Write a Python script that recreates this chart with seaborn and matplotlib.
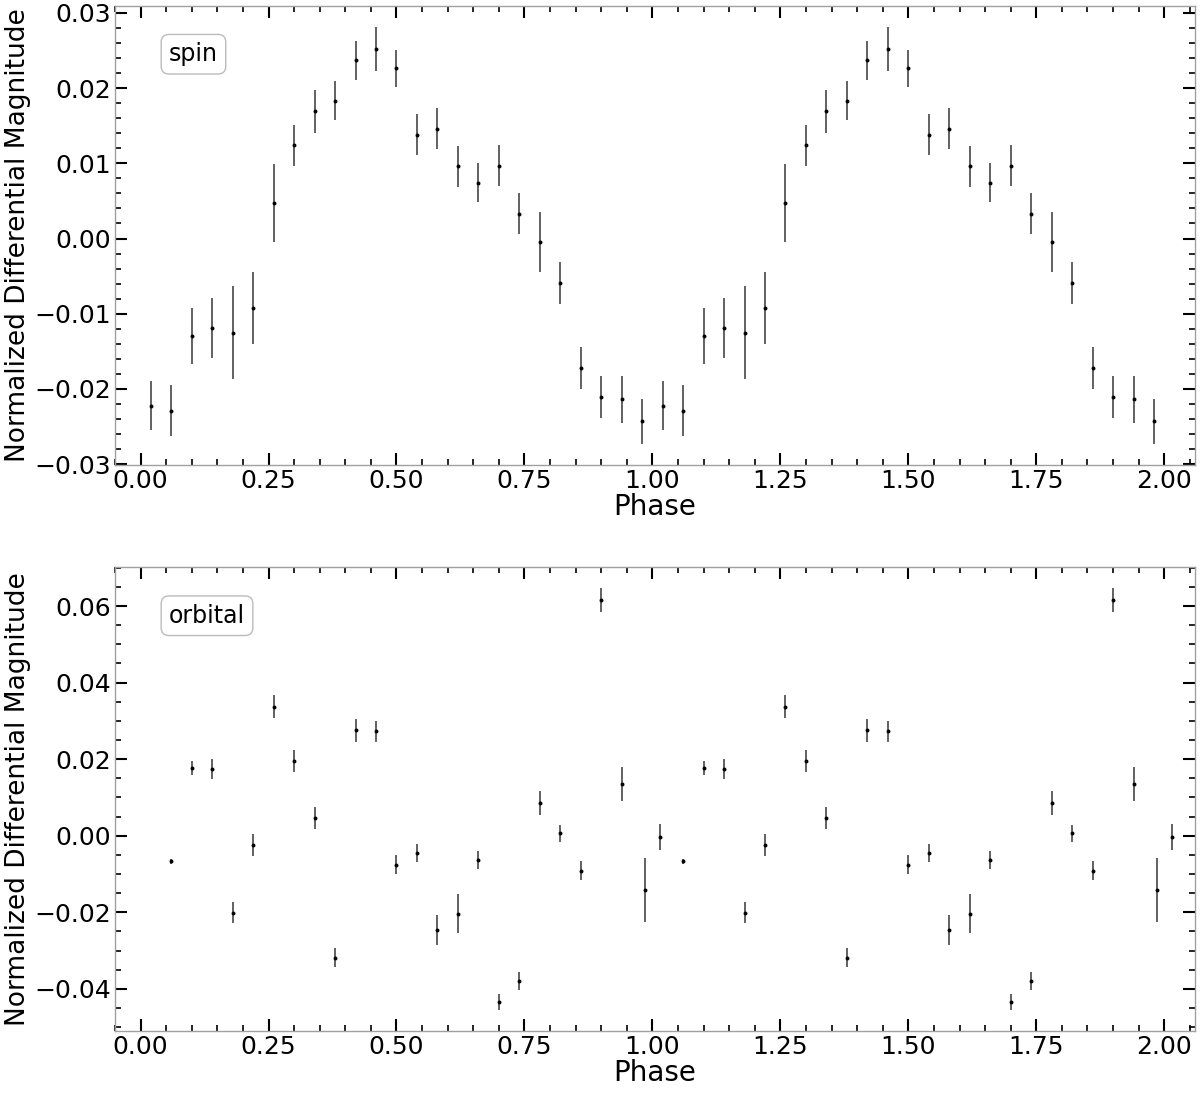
import numpy as np
import pandas as pd
import matplotlib
matplotlib.use('Agg')
import matplotlib.pyplot as plt
import seaborn as sns
from matplotlib.ticker import AutoMinorLocator

# spin folded light curve (one cycle, repeated for the second)
spin_phase = [0.02, 0.06, 0.10, 0.14, 0.18, 0.22, 0.26, 0.30, 0.34, 0.38, 0.42, 0.46, 0.50,
              0.54, 0.58, 0.62, 0.66, 0.70, 0.74, 0.78, 0.82, 0.86, 0.90, 0.94, 0.98]
spin_mag = [-0.0222, -0.0229, -0.0130, -0.0119, -0.0125, -0.0092, 0.0047, 0.0124, 0.0169,
            0.0183, 0.0237, 0.0252, 0.0226, 0.0138, 0.0146, 0.0096, 0.0074, 0.0097, 0.0033,
            -0.0005, -0.0059, -0.0172, -0.0211, -0.0214, -0.0243]
spin_err = [0.0033, 0.0034, 0.0037, 0.0040, 0.0062, 0.0048, 0.0052, 0.0027, 0.0029, 0.0026,
            0.0026, 0.0029, 0.0025, 0.0027, 0.0027, 0.0027, 0.0026, 0.0027, 0.0027, 0.0040,
            0.0028, 0.0028, 0.0028, 0.0031, 0.0030]

# orbital folded light curve
orb_phase = [0.06, 0.10, 0.14, 0.18, 0.22, 0.26, 0.30, 0.34, 0.38, 0.42, 0.46, 0.50, 0.54,
             0.58, 0.62, 0.66, 0.70, 0.74, 0.78, 0.82, 0.86, 0.90, 0.94, 0.985, 1.015]
orb_mag = [-0.0067, 0.0178, 0.0174, -0.0201, -0.0024, 0.0337, 0.0195, 0.0047, -0.0319,
           0.0276, 0.0273, -0.0076, -0.0045, -0.0246, -0.0203, -0.0064, -0.0434, -0.0379,
           0.0085, 0.0007, -0.0091, 0.0616, 0.0136, -0.0142, -0.0004]
orb_err = [0.0007, 0.0018, 0.0027, 0.0027, 0.0029, 0.0030, 0.0029, 0.0029, 0.0025, 0.0030,
           0.0028, 0.0025, 0.0024, 0.0039, 0.0052, 0.0024, 0.0021, 0.0023, 0.0031, 0.0022,
           0.0024, 0.0031, 0.0044, 0.0083, 0.0034]


def two_cycles(phase, mag, err):
    ph = np.array(phase)
    return pd.DataFrame({'phase': np.concatenate([ph, ph + 1]),
                         'mag': np.tile(mag, 2),
                         'err': np.tile(err, 2)})


sns.set_style('ticks')
plt.rcParams['font.family'] = ['DejaVu Sans']
plt.rcParams['axes.unicode_minus'] = True
plt.rcParams['text.color'] = 'black'
plt.rcParams['axes.labelcolor'] = 'black'

fig = plt.figure(figsize=(12, 11.19), dpi=100)
ax1 = fig.add_axes([0.0958, 0.5845, 0.9, 0.4101])
ax2 = fig.add_axes([0.0958, 0.0786, 0.9, 0.4147])

for ax, (ph, mg, er), label in [(ax1, (spin_phase, spin_mag, spin_err), 'spin'),
                                (ax2, (orb_phase, orb_mag, orb_err), 'orbital')]:
    df = two_cycles(ph, mg, er)
    ax.errorbar(df['phase'], df['mag'], yerr=df['err'], fmt='none',
                ecolor='#555555', elinewidth=1.3)
    sns.scatterplot(data=df, x='phase', y='mag', ax=ax, color='black', s=8,
                    edgecolor='black', linewidth=0, zorder=3)
    ax.set_xlim(-0.05, 2.06)
    ax.set_xticks([0.0, 0.25, 0.5, 0.75, 1.0, 1.25, 1.5, 1.75, 2.0])
    ax.xaxis.set_minor_locator(AutoMinorLocator())
    ax.yaxis.set_minor_locator(AutoMinorLocator())
    ax.tick_params(which='both', direction='in', top=True, right=True,
                   colors='black', labelcolor='black', labelsize=18, pad=3)
    ax.tick_params(which='major', length=8.5, width=1.5)
    ax.tick_params(which='minor', length=4.5, width=1.2)
    for sp in ax.spines.values():
        sp.set_color('#a0a0a0')
        sp.set_linewidth(1.0)
    ax.set_xlabel('Phase', fontsize=20, labelpad=0, color='black')
    ax.set_ylabel('Normalized Differential Magnitude', fontsize=19, labelpad=2, color='black')
    ax.text(0.05, 0.895, label, transform=ax.transAxes, fontsize=17, color='black',
            ha='left', va='center',
            bbox=dict(boxstyle='round,pad=0.33', facecolor='white', edgecolor='#bbbbbb'))

ax1.set_yticks([-0.03, -0.02, -0.01, 0.0, 0.01, 0.02, 0.03])
ax1.set_ylim(-0.0301, 0.0309)
ax2.set_ylim(-0.051, 0.0702)

fig.savefig('out.png', dpi=100)
